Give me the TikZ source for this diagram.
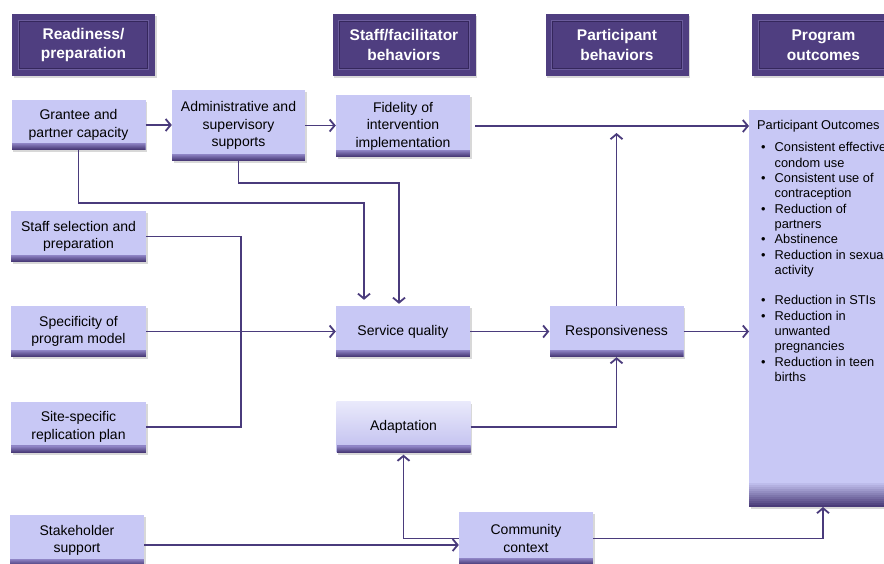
\documentclass[tikz,border=0pt]{standalone}
\usepackage{fontspec}
\setmainfont{Liberation Sans}
\usetikzlibrary{arrows.meta,shadows,calc}
\definecolor{hdr}{HTML}{4F3E80}
\definecolor{hdrline}{HTML}{35275C}
\definecolor{hdrlight}{HTML}{6B5C9C}
\definecolor{lav}{HTML}{C8C8F5}
\definecolor{lavtop}{HTML}{D4D4F8}
\definecolor{bandtop}{HTML}{8F85C6}
\definecolor{bandbot}{HTML}{4A3B78}
\definecolor{conncol}{HTML}{4A3B7C}
% gradient band made of strips: #1 height (pt), #2 number of strips, #3 top colour, #4 bottom colour
\newcommand{\mybandstrips}[4]{%
  \foreach \jj in {0,...,\numexpr#2-1\relax}{%
    \pgfmathsetmacro{\pcx}{100-100*\jj/(#2-1)}%
    \pgfmathsetmacro{\yya}{#1*\jj/#2}%
    \pgfmathsetmacro{\yyb}{#1*(\jj+1)/#2+0.3}%
    \fill[#4!\pcx!#3] ([yshift=\yya pt]path picture bounding box.south west) rectangle ([yshift=\yyb pt]path picture bounding box.south east);
  }%
}
\tikzset{
  hdrbox/.style={fill=hdr, minimum width=143pt, minimum height=62pt, inner sep=0pt,
    text=white, align=center, font=\fontsize{15.5}{19.5}\selectfont\bfseries,
    drop shadow={shadow xshift=1.5pt, shadow yshift=-1.5pt, opacity=0.3},
    path picture={
      \draw[hdrlight, line width=0.8pt] ([shift={(6.2pt,6.2pt)}]path picture bounding box.south west) rectangle ([shift={(-6.2pt,-6.2pt)}]path picture bounding box.north east);
      \draw[hdrline, line width=1pt] ([shift={(7.2pt,7.2pt)}]path picture bounding box.south west) rectangle ([shift={(-7.2pt,-7.2pt)}]path picture bounding box.north east);
    }},
  box/.style={fill=lav, minimum width=134pt, minimum height=51pt,
    inner sep=0pt, align=center, font=\fontsize{14}{17.5}\selectfont,
    drop shadow={shadow xshift=1.5pt, shadow yshift=-2pt, opacity=0.3},
    path picture={\mybandstrips{7}{7}{bandtop}{bandbot}}},
  outbox/.style={fill=lav, minimum width=160pt, minimum height=397pt, inner sep=0pt,
    drop shadow={shadow xshift=1.5pt, shadow yshift=-2pt, opacity=0.3},
    path picture={\mybandstrips{26}{13}{lav}{bandbot}}},
  conn/.style={draw=conncol, line width=1.8pt, -{Straight Barb[length=5pt,width=12pt]}},
  plain/.style={draw=conncol, line width=1.8pt},
}
\begin{document}
\begin{tikzpicture}[x=1pt,y=-1pt]
\useasboundingbox (0,0) rectangle (884,563);
\clip (0,0) rectangle (884,563);
\fill[white] (0,0) rectangle (884,563);

% headers
\node[hdrbox] (h1) at (83.5,45) {Readiness/\\preparation};
\node[hdrbox] (h2) at (404,45) {Staff/facilitator\\behaviors};
\node[hdrbox] (h3) at (617,45) {Participant\\behaviors};
\node[hdrbox] (h4) at (823.5,45) {Program\\outcomes};

% boxes
\node[box] (grantee) at (78.5,125) [minimum height=50pt] {Grantee and\\partner capacity};
\node[box] (admin) at (238.5,125.5) [minimum width=133pt, minimum height=71pt] {Administrative and\\supervisory\\supports};
\node[box] (fidelity) at (403,126) [minimum height=62pt] {Fidelity of\\intervention\\implementation};
\node[box] (staff) at (78.5,236.5) [minimum width=135pt] {Staff selection and\\preparation};
\node[box] (spec) at (78.5,331.5) [minimum width=135pt] {Specificity of\\program model};
\node[box] (site) at (78.5,427) [minimum width=135pt] {Site-specific\\replication plan};
\node[box] (stake) at (77,540.5) {Stakeholder\\support};
\node[box] (sq) at (403,331.5) {Service quality};
\node[box] (resp) at (616.5,331.5) {Responsiveness};
\node[box] (adapt) at (403.5,427) [top color=lavtop!50!white, bottom color=lav!85!bandtop] {Adaptation};
\node[box] (comm) at (526,538.5) [minimum height=53pt] {Community\\context};

\node[outbox, anchor=north west] (outcomes) at (749,110) {};
\node[anchor=north west, inner sep=0pt, font=\fontsize{12.8}{15.3}\selectfont] (outtext) at (757,119) {%
\begin{tabular}{@{\hspace{4pt}}l@{\hspace{9pt}}l@{}}
\multicolumn{2}{@{}l@{}}{Participant Outcomes}\\[6.7pt]
• & Consistent effective\\
  & condom use\\
• & Consistent use of\\
  & contraception\\
• & Reduction of\\
  & partners\\
• & Abstinence\\
• & Reduction in sexual\\
  & activity\\
  & \\
• & Reduction in STIs\\
• & Reduction in\\
  & unwanted\\
  & pregnancies\\
• & Reduction in teen\\
  & births
\end{tabular}};

% connectors
\draw[conn] (grantee.east) -- (grantee.east -| admin.west);
\draw[conn] (admin.east) -- (admin.east -| fidelity.west);
\draw[conn] ([xshift=5pt]fidelity.east) -- (fidelity.east -| outcomes.west);

\coordinate (g1) at (364,203);
\draw[conn, shorten >=6pt] (grantee.south) |- (g1) -- (g1 |- sq.north);
\coordinate (a1) at (399,183);
\draw[conn, shorten >=2pt] (admin.south) |- (a1) -- (a1 |- sq.north);

\coordinate (j1) at (241,427);
\draw[plain] (staff.east) -| (j1) -- (site.east);
\draw[conn] (spec.east) -- (sq.west);
\draw[conn] (sq.east) -- (resp.west);
\draw[conn] (resp.east) -- (resp.east -| outcomes.west);

\coordinate (r1) at (617,133);
\draw[conn] (resp.north) -- (resp.north |- r1);
\draw[conn] (adapt.east) -| (resp.south);

\draw[conn] ([yshift=-4.5pt]stake.east) -- ([yshift=-4.5pt]stake.east -| comm.west);
\draw[conn, shorten >=2pt] (comm.west) -| (adapt.south);
\coordinate (o1) at (823,507);
\draw[conn] (comm.east) -| (o1);
\end{tikzpicture}
\end{document}
